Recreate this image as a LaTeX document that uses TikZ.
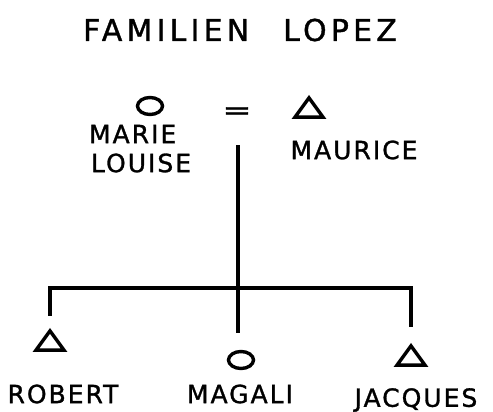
\documentclass[tikz,border=0pt]{standalone}
\usepackage{fontspec}
\setmainfont{DejaVu Sans}[LetterSpace=8, FakeBold=1.2]
\usepackage{tikz}
\usetikzlibrary{shapes.geometric}

\begin{document}
\begin{tikzpicture}[x=1pt, y=-1pt, line width=3.4pt,
    every node/.style={font=\fontsize{25}{27}\selectfont},
    female/.style={draw, ellipse, minimum width=25pt, minimum height=17pt, inner sep=0pt},
    male/.style={draw, isosceles triangle, isosceles triangle apex angle=72, shape border rotate=90,
                 minimum width=28pt, minimum height=19pt, inner sep=0pt}]
\useasboundingbox (0,0) rectangle (493,412);

\node[font=\fontsize{30}{32}\selectfont\addfontfeature{LetterSpace=14}] (title) at (240,30) {FAMILIEN\hspace{34pt}LOPEZ};

% parents
\node[female] (ml) at (150,106) {};
\node[anchor=west] (ml1) at (84,134) {MARIE};
\node[anchor=west] (ml2) at (86,163) {LOUISE};
\node[xscale=1.4] (eq) at (237,113) {=};
\node[male] (mau) at (309,110) {};
\node (mauname) at (354,150) {MAURICE};

% children
\node[male] (rob) at (50,343) {};
\node[female] (mag) at (241,360) {};
\node[male] (jac) at (411,358) {};
\node (robname) at (63,394) {ROBERT};
\node (magname) at (240,394) {MAGALI};
\node (jacname) at (416,400) {JACQUES};

\coordinate (desc) at (238,145);
\coordinate (bar) at (238,288);

\draw[shorten >=17pt] (desc) -- (bar |- mag.north);
\draw[shorten <=12pt, shorten >=16pt] (rob.north) |- (bar) -| (jac.north);
\end{tikzpicture}
\end{document}
